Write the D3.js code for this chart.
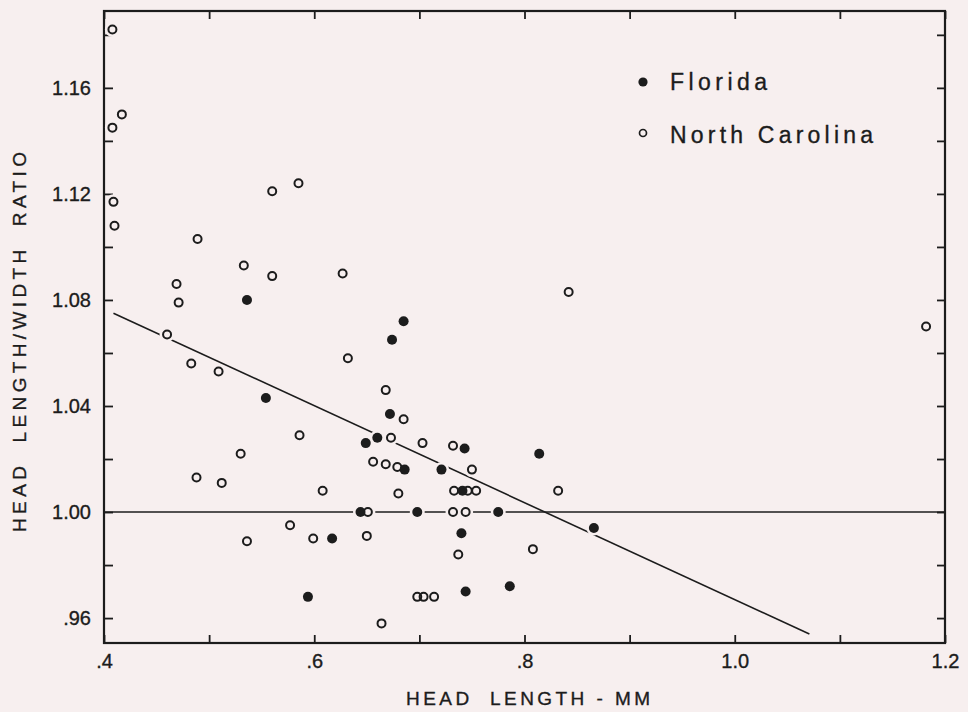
<!DOCTYPE html>
<html>
<head>
<meta charset="utf-8">
<script src="https://cdn.jsdelivr.net/npm/d3@7"></script>
<style>
  html, body { margin: 0; padding: 0; background: #f7efef; }
  svg { display: block; }
  text { font-family: "Liberation Sans", Arial, Helvetica, sans-serif; fill: #1c1c1c; stroke: #1c1c1c; stroke-width: 0.35px; }
</style>
</head>
<body>
<svg id="chart" width="968" height="712"></svg>
<script>
// ---- data ----
const floridaX = [0.536, 0.554, 0.685, 0.674, 0.672, 0.649, 0.660, 0.743, 0.814, 0.686, 0.721,
                  0.741, 0.644, 0.698, 0.775, 0.617, 0.740, 0.866, 0.594, 0.744, 0.786];
const floridaY = [1.080, 1.043, 1.072, 1.065, 1.037, 1.026, 1.028, 1.024, 1.022, 1.016, 1.016,
                  1.008, 1.000, 1.000, 1.000, 0.990, 0.992, 0.994, 0.968, 0.970, 0.972];

const carolinaX = [0.408, 0.417, 0.408, 0.409, 0.410, 0.560, 0.585, 0.489, 0.533, 0.560, 0.469,
                   0.471, 0.460, 0.483, 0.509, 0.586, 0.530, 0.488, 0.512, 0.608, 0.577, 0.536,
                   0.599, 0.627, 0.842, 0.632, 0.668, 0.685, 0.673, 0.703, 0.732, 0.656, 0.668,
                   0.679, 0.750, 0.680, 0.733, 0.746, 0.754, 0.832, 0.651, 0.732, 0.744, 0.650,
                   0.737, 0.808, 0.698, 0.704, 0.714, 0.664, 1.182];
const carolinaY = [1.182, 1.150, 1.145, 1.117, 1.108, 1.121, 1.124, 1.103, 1.093, 1.089, 1.086,
                   1.079, 1.067, 1.056, 1.053, 1.029, 1.022, 1.013, 1.011, 1.008, 0.995, 0.989,
                   0.990, 1.090, 1.083, 1.058, 1.046, 1.035, 1.028, 1.026, 1.025, 1.019, 1.018,
                   1.017, 1.016, 1.007, 1.008, 1.008, 1.008, 1.008, 1.000, 1.000, 1.000, 0.991,
                   0.984, 0.986, 0.968, 0.968, 0.968, 0.958, 1.070];

const regressionX = [0.409, 1.071];
const regressionY = [1.075, 0.954];
const referenceY = 1.00;

const xTickValues = [0.4, 0.5, 0.6, 0.7, 0.8, 0.9, 1.0, 1.1, 1.2];
const xTickLabels = [".4", ".6", ".8", "1.0", "1.2"];
const yTickValues = [0.96, 0.98, 1.00, 1.02, 1.04, 1.06, 1.08, 1.10, 1.12, 1.14, 1.16, 1.18];
const yTickLabels = [".96", "1.00", "1.04", "1.08", "1.12", "1.16"];

const seriesNames = ["Florida", "North Carolina"];
const xTitle = "HEAD  LENGTH - MM";
const yTitle = "HEAD  LENGTH/WIDTH  RATIO";

// ---- layout ----
const BG = "#f7efef", INK = "#1c1c1c";
const L = 104, R = 945, T = 11, B = 643;
const svg = d3.select("#chart");
svg.append("rect").attr("width", 968).attr("height", 712).attr("fill", BG);

const x = d3.scaleLinear().domain([0.4, 1.2]).range([L, R]);
const y = d3.scaleLinear().domain([0.9506, 1.189]).range([B, T]);

const fmt = labels => v => {
  const s = labels.find(l => Math.abs(parseFloat(l) - v) < 1e-6);
  return s === undefined ? "" : s;
};

const styleAxis = g => {
  g.select(".domain").remove();
  g.selectAll(".tick line").attr("stroke", INK).attr("stroke-width", 1.8);
  g.selectAll(".tick text").attr("font-size", 20).attr("fill", INK)
    .attr("font-family", "Liberation Sans, Arial, sans-serif");
};

svg.append("g").attr("transform", `translate(0,${B})`)
  .call(d3.axisBottom(x).tickValues(xTickValues).tickSizeInner(-8).tickSizeOuter(0)
        .tickPadding(11).tickFormat(fmt(xTickLabels)))
  .call(styleAxis);
svg.append("g").attr("transform", `translate(0,${T})`)
  .call(d3.axisTop(x).tickValues(xTickValues).tickSizeInner(-8).tickSizeOuter(0).tickFormat(""))
  .call(styleAxis);
svg.append("g").attr("transform", `translate(${L},0)`)
  .call(d3.axisLeft(y).tickValues(yTickValues).tickSizeInner(-9).tickSizeOuter(0)
        .tickPadding(13).tickFormat(fmt(yTickLabels)))
  .call(styleAxis);
svg.append("g").attr("transform", `translate(${R},0)`)
  .call(d3.axisRight(y).tickValues(yTickValues).tickSizeInner(-8).tickSizeOuter(0).tickFormat(""))
  .call(styleAxis);

// frame
svg.append("rect").attr("x", L).attr("y", T).attr("width", R - L).attr("height", B - T)
  .attr("fill", "none").attr("stroke", INK).attr("stroke-width", 2.2);

// reference line at 1.00
svg.append("line")
  .attr("x1", x(0.4)).attr("x2", x(1.2)).attr("y1", y(referenceY)).attr("y2", y(referenceY))
  .attr("stroke", INK).attr("stroke-width", 1.6);

// regression line
svg.append("line")
  .attr("x1", x(regressionX[0])).attr("y1", y(regressionY[0]))
  .attr("x2", x(regressionX[1])).attr("y2", y(regressionY[1]))
  .attr("stroke", INK).attr("stroke-width", 1.6);

const florida = floridaX.map((v, i) => ({ x: v, y: floridaY[i] }));
const carolina = carolinaX.map((v, i) => ({ x: v, y: carolinaY[i] }));
const all = florida.concat(carolina);

// halos (lines are broken around the symbols)
svg.append("g").selectAll("circle").data(all).join("circle")
  .attr("cx", d => x(d.x)).attr("cy", d => y(d.y)).attr("r", 7.5).attr("fill", BG);

svg.append("g").selectAll("circle").data(carolina).join("circle")
  .attr("cx", d => x(d.x)).attr("cy", d => y(d.y)).attr("r", 4)
  .attr("fill", "none").attr("stroke", INK).attr("stroke-width", 2);

svg.append("g").selectAll("circle").data(florida).join("circle")
  .attr("cx", d => x(d.x)).attr("cy", d => y(d.y)).attr("r", 5)
  .attr("fill", INK);

// legend
const lg = svg.append("g");
lg.append("circle").attr("cx", 643).attr("cy", 82).attr("r", 4.6).attr("fill", INK);
lg.append("circle").attr("cx", 643).attr("cy", 133).attr("r", 3.5)
  .attr("fill", "none").attr("stroke", INK).attr("stroke-width", 1.7);
lg.append("text").attr("x", 670).attr("y", 90).attr("font-size", 23)
  .attr("textLength", 97).attr("lengthAdjust", "spacing").text(seriesNames[0]);
lg.append("text").attr("x", 670).attr("y", 143).attr("font-size", 23)
  .attr("textLength", 203).attr("lengthAdjust", "spacing").text(seriesNames[1]);

// axis titles
svg.append("text").attr("x", 406).attr("y", 705).attr("font-size", 19)
  .attr("textLength", 244).attr("lengthAdjust", "spacing")
  .style("white-space", "pre").text(xTitle);
svg.append("text").attr("transform", "translate(26,532) rotate(-90)")
  .attr("x", 0).attr("y", 0).attr("font-size", 19)
  .attr("textLength", 380).attr("lengthAdjust", "spacing")
  .style("white-space", "pre").text(yTitle);
</script>
</body>
</html>
